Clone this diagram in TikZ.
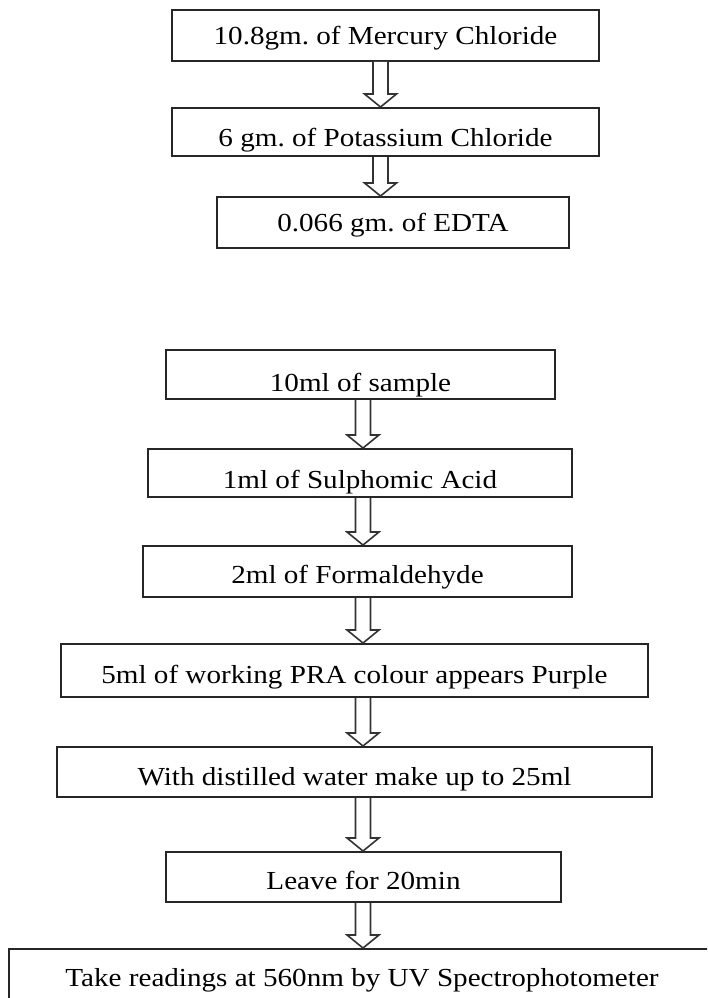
\documentclass[tikz,border=0pt]{standalone}
\usepackage{fontspec}
\setmainfont{Liberation Serif}[FakeStretch=1.12]
\usetikzlibrary{calc}

\begin{document}
\begin{tikzpicture}[x=1pt,y=-1pt,
    stepbox/.style={draw=black!85,line width=2pt,inner sep=0pt,text height=24pt,text depth=0pt,
        font=\fontsize{26}{30}\selectfont\frenchspacing},
    hollowarrow/.style={draw=black!80,line width=1.6pt,fill=white,line join=miter}]
    \clip (0,0) rectangle (707,998);
    % reagent
    \node[stepbox,minimum width=427,minimum height=51,text height=19pt] (hgcl) at (385.5,35.5) {10.8gm. of Mercury Chloride};
    \node[stepbox,minimum width=427,minimum height=48,text height=29pt] (kcl) at (385.5,132) {6 gm. of Potassium Chloride};
    \node[stepbox,minimum width=352,minimum height=51,text height=18pt] (edta) at (393,222.5) {0.066 gm. of EDTA};
    % procedure
    \node[stepbox,minimum width=389,minimum height=49,text height=33pt] (sample) at (360.5,374.5) {10ml of sample};
    \node[stepbox,minimum width=424,minimum height=48,text height=30pt] (sulph) at (360,473) {1ml of Sulphomic Acid};
    \node[stepbox,minimum width=429,minimum height=51] (formal) at (357.5,571.5) {2ml of Formaldehyde};
    \node[stepbox,minimum width=587,minimum height=53,text height=25pt] (pra) at (354.5,670.5) {5ml of working PRA colour appears Purple};
    \node[stepbox,minimum width=595,minimum height=50,text height=26pt] (water) at (354.5,772) {With distilled water make up to 25ml};
    \node[stepbox,minimum width=395,minimum height=50] (leave) at (363.5,877) {Leave for 20min};
    \node[stepbox,minimum width=706,minimum height=52,text height=22pt] (reading) at (362,975) {Take readings at 560nm by UV Spectrophotometer};
    \coordinate (upx) at (380.5,0);
    \coordinate (lowx) at (363,0);
    % arrows
    \foreach \a/\b/\c in {hgcl/kcl/upx, kcl/edta/upx, sample/sulph/lowx, sulph/formal/lowx,
        formal/pra/lowx, pra/water/lowx, water/leave/lowx, leave/reading/lowx} {
        \path (\a.south -| \c) coordinate (s) (\b.north -| \c) coordinate (t);
        \draw[hollowarrow] ($(s)+(-7.5,0)$) -- ($(t)+(-7.5,-13)$) -- ($(t)+(-16,-13)$) -- (t)
            -- ($(t)+(16,-13)$) -- ($(t)+(7.5,-13)$) -- ($(s)+(7.5,0)$);
    }
\end{tikzpicture}
\end{document}
